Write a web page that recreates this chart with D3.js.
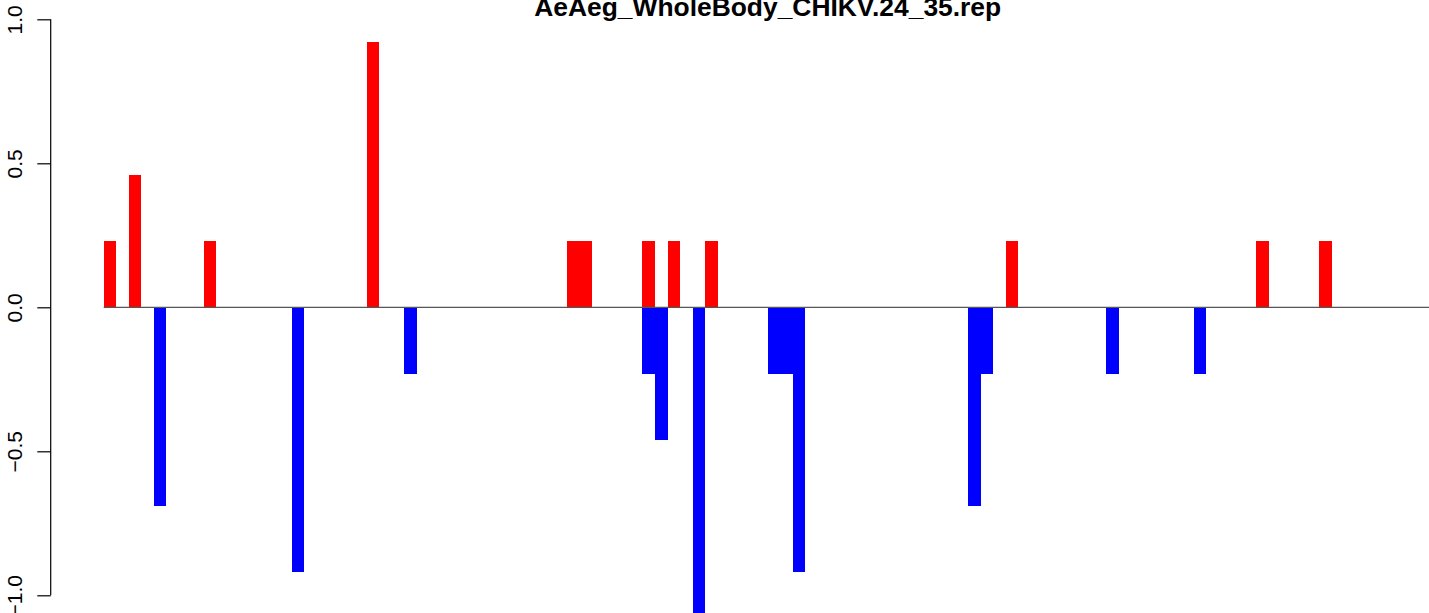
<!DOCTYPE html>
<html>
<head>
<meta charset="utf-8">
<script src="https://cdn.jsdelivr.net/npm/d3@7"></script>
<style>
  html, body { margin: 0; padding: 0; background: #fff; }
  svg { display: block; }
  text { font-family: "Liberation Sans", Arial, Helvetica, sans-serif; }
</style>
</head>
<body>
<svg id="chart" width="1429" height="613"></svg>
<script>
// ---- data ----
const titleText = "AeAeg_WholeBody_CHIKV.24_35.rep";
const nSlots = 106;
const categories = d3.range(1, nSlots + 1);            // bar positions 1..106
// positive (red) values by position
const redPositions = [1, 3, 9, 22, 38, 39, 44, 46, 49, 73, 93, 98];
const redValues    = [0.23, 0.46, 0.23, 0.92, 0.23, 0.23, 0.23, 0.23, 0.23, 0.23, 0.23, 0.23];
// negative (blue) values by position
const bluePositions = [5, 16, 25, 44, 45, 48, 54, 55, 56, 70, 71, 81, 88];
const blueValues    = [-0.69, -0.92, -0.23, -0.23, -0.46, -1.15, -0.23, -0.23, -0.92, -0.69, -0.23, -0.23, -0.23];
const yTicks = [-1.0, -0.5, 0.0, 0.5, 1.0];
const yTickLabels = ["-1.0", "-0.5", "0.0", "0.5", "1.0"];

// ---- layout ----
const svg = d3.select("#chart");
const barLeft = 103.7, slotW = 12.53;
const x = d3.scaleBand()
  .domain(categories)
  .range([barLeft, barLeft + nSlots * slotW])
  .paddingInner(0).paddingOuter(0);
const y = d3.scaleLinear().domain([-1, 1]).range([595.3, 19.3]);

const redData = redPositions.map((p, i) => ({pos: p, v: redValues[i]}));
const blueData = bluePositions.map((p, i) => ({pos: p, v: blueValues[i]}));

function drawBars(data, color) {
  svg.append("g").selectAll("rect").data(data).enter().append("rect")
    .attr("x", d => x(d.pos))
    .attr("width", x.bandwidth())
    .attr("y", d => Math.min(y(d.v), y(0)))
    .attr("height", d => Math.abs(y(d.v) - y(0)))
    .attr("fill", color)
    .attr("shape-rendering", "crispEdges");
}
drawBars(redData, "#ff0000");
drawBars(blueData, "#0000ff");

// baseline
svg.append("line")
  .attr("x1", x.range()[0]).attr("x2", x.range()[1])
  .attr("y1", y(0)).attr("y2", y(0))
  .attr("stroke", "#555555").attr("stroke-width", 1.2);

// y axis
const axisX = 50.7;
const yAxis = d3.axisLeft(y).tickValues(yTicks).tickSize(13.4).tickSizeOuter(0)
  .tickFormat((d, i) => yTickLabels[i].replace("-", "\u2212"));
const gy = svg.append("g").attr("transform", `translate(${axisX},0)`).call(yAxis);
gy.select(".domain").attr("stroke", "#000").attr("stroke-width", 1.2)
  .attr("d", `M0,${y(1)}V${y(-1)}`);
gy.selectAll(".tick line").attr("stroke", "#000").attr("stroke-width", 1.2);
gy.selectAll(".tick text")
  .attr("x", null).attr("dy", null)
  .attr("text-anchor", "middle")
  .attr("font-size", "21px")
  .attr("fill", "#000")
  .attr("font-family", "Liberation Sans, Arial, sans-serif")
  .attr("transform", `translate(${21.7 - axisX},0) rotate(-90)`)
  .attr("y", 0);

// title
svg.append("text")
  .attr("x", 767.7).attr("y", 16)
  .attr("text-anchor", "middle")
  .attr("font-size", "26.4px")
  .attr("font-weight", "bold")
  .attr("fill", "#000")
  .text(titleText);
</script>
</body>
</html>
